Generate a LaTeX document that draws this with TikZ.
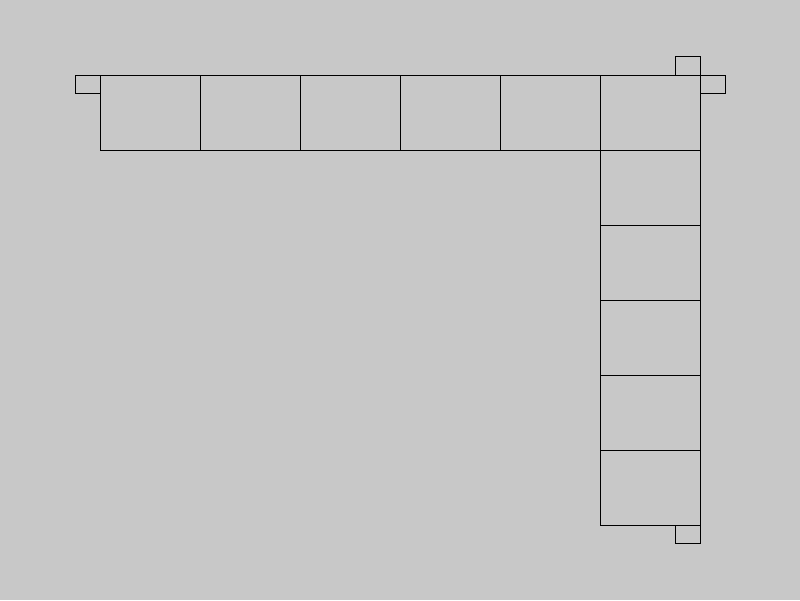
\documentclass[tikz,border=0pt]{standalone}
\definecolor{bggray}{RGB}{200,200,200}
\begin{document}
\begin{tikzpicture}[x=0.025cm, y=-0.025cm, line width=0.7pt]
            \fill[bggray] (0,0) rectangle (800,600);
            \useasboundingbox (0,0) rectangle (800,600);

            % top row of cells
            \foreach \i in {0,...,5}
                \draw (100+100*\i,75) rectangle ++(100,75);
            % right column of cells
            \foreach \j in {1,...,5}
                \draw (600,75+75*\j) rectangle ++(100,75);

            % small tabs
            \draw (75,75) rectangle (100,93);
            \draw (675,56) rectangle (700,75);
            \draw (700,75) rectangle (725,93);
            \draw (675,525) rectangle (700,543);
        \end{tikzpicture}
\end{document}
